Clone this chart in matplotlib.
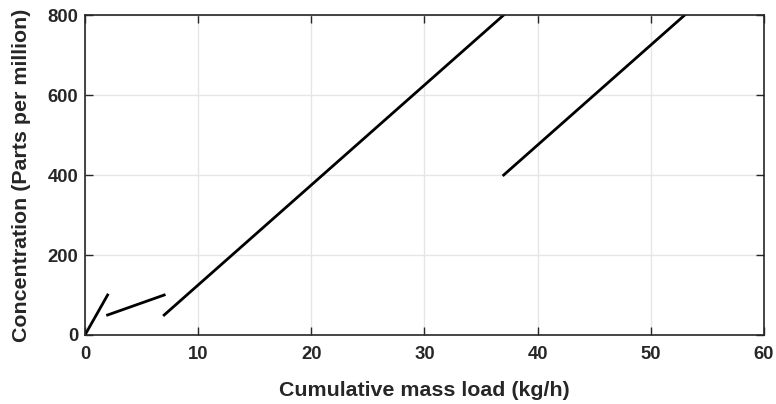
import matplotlib
matplotlib.use('Agg')
import matplotlib.pyplot as plt

# line segments (x, y)
seg_x = [[0, 2], [2, 7], [7, 37], [37, 53]]
seg_y = [[0, 100], [50, 100], [50, 800], [400, 800]]

xticks = [0, 10, 20, 30, 40, 50, 60]
yticks = [0, 200, 400, 600, 800]

plt.rcParams['font.family'] = ['Liberation Sans', 'DejaVu Sans']
plt.rcParams['font.weight'] = 'bold'

fig = plt.figure(figsize=(7.76, 4.04), dpi=100)
ax = fig.add_axes([0.1095, 0.1708, 0.875, 0.792])

for sx, sy in zip(seg_x, seg_y):
    ax.plot(sx, sy, color='black', linewidth=2)

ax.set_xlim(0, 60)
ax.set_ylim(0, 800)
ax.set_xticks(xticks)
ax.set_yticks(yticks)
ax.grid(True, color='#e6e6e6', linewidth=1)
ax.set_axisbelow(True)
ax.tick_params(direction='in', top=True, right=True, length=6,
               labelsize=13.3, colors='#262626', width=1)
ax.tick_params(axis='x', pad=8)
ax.tick_params(axis='y', pad=5)
for lab in ax.get_xticklabels() + ax.get_yticklabels():
    lab.set_fontweight('bold')
for s in ax.spines.values():
    s.set_color('#262626')
    s.set_linewidth(1.2)

ax.set_xlabel('Cumulative mass load (kg/h)', fontsize=15.4, fontweight='bold',
              color='#262626', va='center')
ax.set_ylabel('Concentration (Parts per million)', fontsize=15.4,
              fontweight='bold', color='#262626', va='center')
ax.xaxis.set_label_coords(0.5, -0.172)
ax.yaxis.set_label_coords(-0.093, 0.5)

fig.savefig('out.png', dpi=100)
